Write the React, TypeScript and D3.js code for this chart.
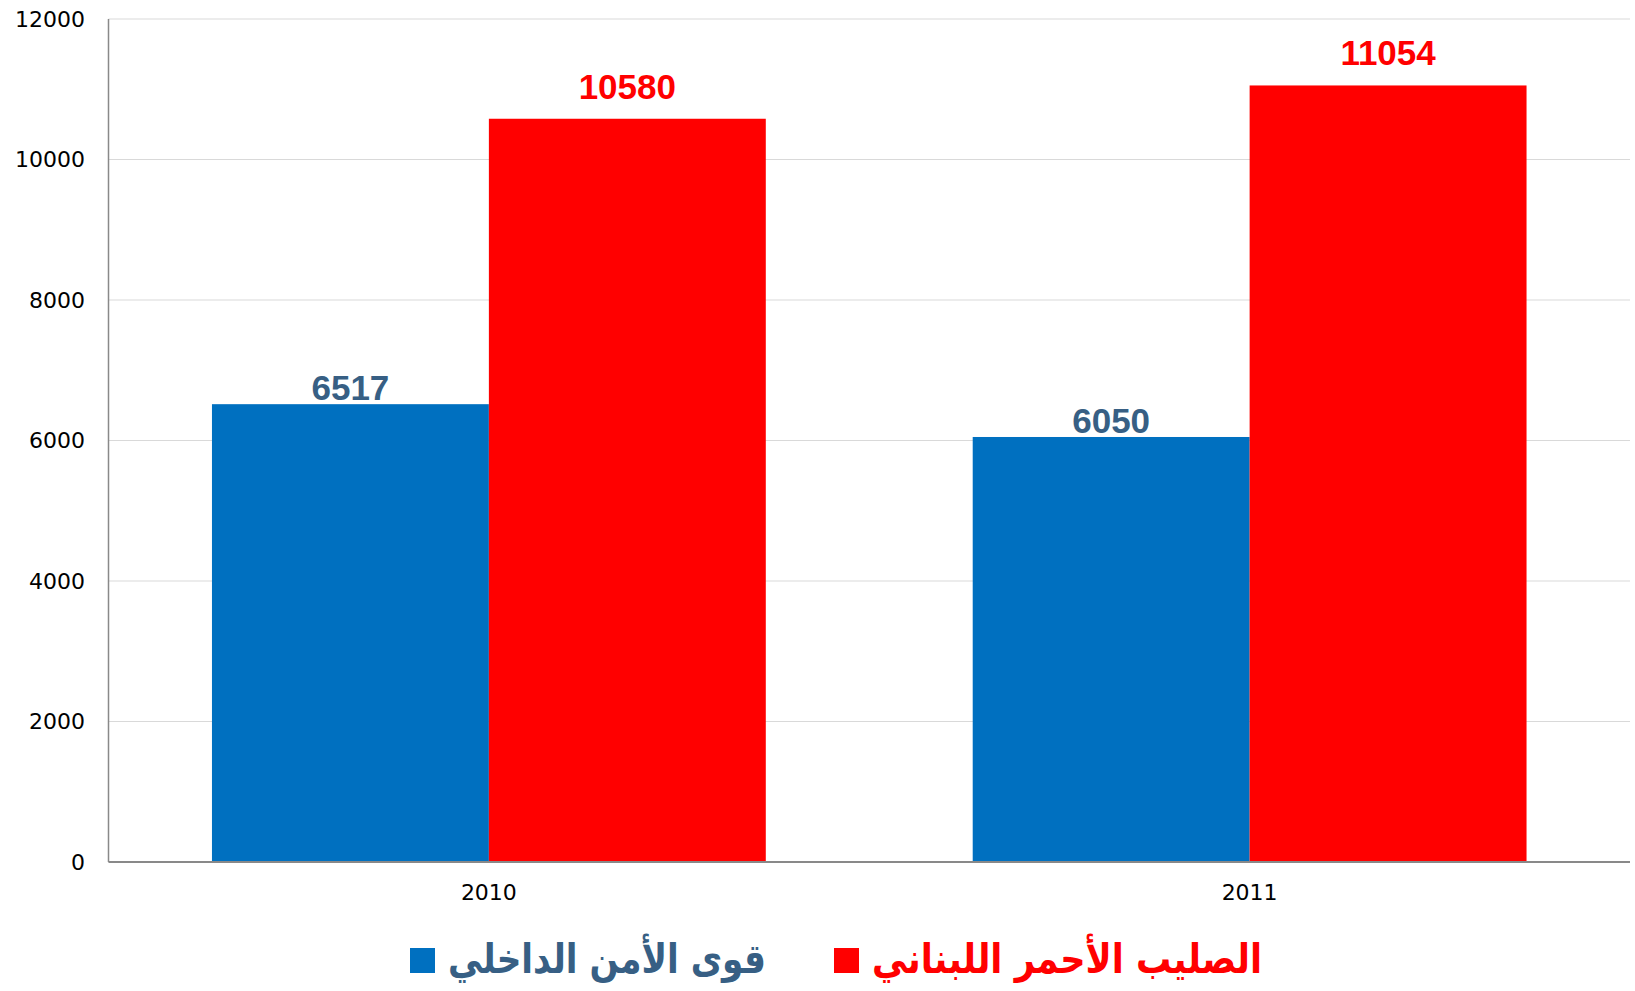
import React from "react";
import { scaleBand, scaleLinear } from "d3";

const years = ["2010", "2011"];
const seriesNames = ["قوى الأمن الداخلي", "الصليب الأحمر اللبناني"];
const isfValues = [6517, 6050];
const redCrossValues = [10580, 11054];
const yTicks = [0, 2000, 4000, 6000, 8000, 10000, 12000];

const series = [
  { name: seriesNames[0], values: isfValues, color: "#0070C0", label: "#375F84", gap: 4 },
  { name: seriesNames[1], values: redCrossValues, color: "#FF0000", label: "#FF0000", gap: 20 },
];

const W = 1635;
const H = 991;
const margin = { top: 19, right: 5, bottom: 129, left: 108.5 };

export default function App() {
  const innerW = W - margin.left - margin.right;
  const y = scaleLinear().domain([0, 12000]).range([H - margin.bottom, margin.top]);
  const x0 = scaleBand().domain(years).range([margin.left, margin.left + innerW]).padding(0);
  const bw = x0.bandwidth();
  const x1 = scaleBand()
    .domain(series.map((s) => s.name))
    .range([bw * 0.136, bw * 0.864])
    .padding(0);

  const axisFont = "'DejaVu Sans', sans-serif";

  return (
    <svg
      width={W}
      height={H}
      style={{ position: "absolute", left: 0, top: 0, background: "#fff" }}
    >
      {/* grid */}
      {yTicks.map((t) => (
        <line
          key={t}
          x1={margin.left}
          x2={W - margin.right}
          y1={y(t)}
          y2={y(t)}
          stroke="#d9d9d9"
          strokeWidth={1}
        />
      ))}
      {/* bars */}
      {years.map((yr, i) => (
        <g key={yr} transform={`translate(${x0(yr)},0)`}>
          {series.map((s) => (
            <rect
              key={s.name}
              x={x1(s.name)}
              y={y(s.values[i])}
              width={x1.bandwidth()}
              height={y(0) - y(s.values[i])}
              fill={s.color}
            />
          ))}
          {series.map((s) => (
            <text
              key={s.name + "l"}
              x={(x1(s.name) ?? 0) + x1.bandwidth() / 2}
              y={y(s.values[i]) - s.gap}
              textAnchor="middle"
              fontFamily="'Liberation Sans', sans-serif"
              fontWeight="bold"
              fontSize={35}
              fill={s.label}
            >
              {s.values[i]}
            </text>
          ))}
        </g>
      ))}
      {/* axes */}
      <line x1={margin.left} x2={margin.left} y1={margin.top} y2={y(0)} stroke="#898989" strokeWidth={1.5} />
      <line x1={margin.left} x2={W - margin.right} y1={y(0)} y2={y(0)} stroke="#898989" strokeWidth={2} />
      {yTicks.map((t) => (
        <text
          key={t}
          x={85}
          y={y(t)}
          dy="0.36em"
          textAnchor="end"
          fontFamily={axisFont}
          fontSize={22}
          fill="#000"
        >
          {t}
        </text>
      ))}
      {years.map((yr) => (
        <text
          key={yr}
          x={(x0(yr) ?? 0) + bw / 2}
          y={892}
          dy="0.36em"
          textAnchor="middle"
          fontFamily={axisFont}
          fontSize={22}
          fill="#000"
        >
          {yr}
        </text>
      ))}
      {/* legend */}
      <g fontFamily={axisFont} fontWeight="bold" fontSize={41}>
        <rect x={834} y={948} width={25} height={25} fill={series[1].color} />
        <text
          x={872}
          y={973}
          direction="rtl"
          textAnchor="end"
          textLength={390}
          lengthAdjust="spacingAndGlyphs"
          fill={series[1].label}
        >
          {series[1].name}
        </text>
        <rect x={410} y={948} width={25} height={25} fill={series[0].color} />
        <text
          x={448}
          y={973}
          direction="rtl"
          textAnchor="end"
          textLength={318}
          lengthAdjust="spacingAndGlyphs"
          fill={series[0].label}
        >
          {series[0].name}
        </text>
      </g>
    </svg>
  );
}
